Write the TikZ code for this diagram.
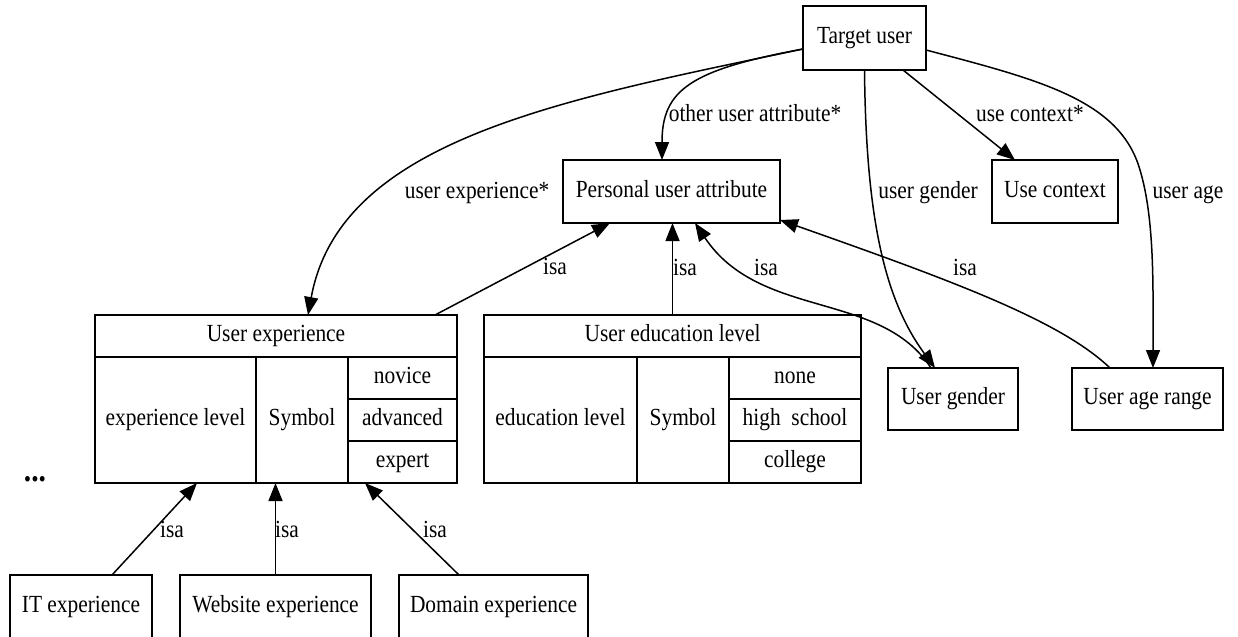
\documentclass[tikz,border=0pt]{standalone}
\usepackage{fontspec}
\setmainfont{Liberation Serif}[FakeStretch=0.87]
\usetikzlibrary{arrows.meta}
\newcommand{\dgfont}{\fontsize{12.3pt}{14pt}\selectfont}
\tikzset{
  box/.style={draw,line width=0.8pt,inner sep=0pt,outer sep=0pt,font=\dgfont,text height=1.5ex,text depth=.25ex},
  lbl/.style={inner sep=0pt,font=\dgfont,text height=1.5ex,text depth=.25ex},
  link/.style={line width=0.75pt,-{Triangle[length=9pt,width=7pt]}}
}
\begin{document}
\begin{tikzpicture}[x=0.5pt,y=-0.5pt]
\clip (0,0) rectangle (1238,637);
\fill[white] (0,0) rectangle (1238,637);

\node[box,minimum width=61.5pt,minimum height=32pt] (tuser) at (864.5,38) {Target user};
\node[box,minimum width=108.5pt,minimum height=31.5pt] (pattr) at (671.5,191.5) {Personal user attribute};
\node[box,minimum width=63pt,minimum height=31.5pt] (ucontext) at (1055,191.5) {Use context};
\node[box,minimum width=65pt,minimum height=31pt] (ugender) at (953,399) {User gender};
\node[box,minimum width=75.5pt,minimum height=31pt] (uagerange) at (1147.5,399) {User age range};

\node[box,minimum width=181pt,minimum height=21pt] (uexp) at (276,336) {User experience};
\node[box,minimum width=80.5pt,minimum height=63pt] (uexplevel) at (175.5,420) {experience level};
\node[box,minimum width=46pt,minimum height=63pt] (uexpsym) at (302,420) {Symbol};
\node[box,minimum width=54.5pt,minimum height=21pt] (xnovice) at (402.5,378) {novice};
\node[box,minimum width=54.5pt,minimum height=21pt] (xadvanced) at (402.5,420) {advanced};
\node[box,minimum width=54.5pt,minimum height=21pt] (xexpert) at (402.5,462) {expert};

\node[box,minimum width=188.5pt,minimum height=21pt] (uedu) at (672.5,336) {User education level};
\node[box,minimum width=76.5pt,minimum height=63pt] (uedulevel) at (560.5,420) {education level};
\node[box,minimum width=46pt,minimum height=63pt] (uedusym) at (683,420) {Symbol};
\node[box,minimum width=66pt,minimum height=21pt] (enone) at (795,378) {none};
\node[box,minimum width=66pt,minimum height=21pt] (ehigh) at (795,420) {high\ \ school};
\node[box,minimum width=66pt,minimum height=21pt] (ecollege) at (795,462) {college};

\node[box,minimum width=71pt,minimum height=31.5pt] (itexp) at (81,606.5) {IT experience};
\node[box,minimum width=95.5pt,minimum height=31.5pt] (webexp) at (275.5,606.5) {Website experience};
\node[box,minimum width=94.5pt,minimum height=31.5pt] (domexp) at (493.5,606.5) {Domain experience};
\node[inner sep=0pt,anchor=base,font=\fontsize{17pt}{18pt}\selectfont\bfseries] (dots) at (35,481) {...};

\draw[link] ([yshift=-5.5pt]tuser.west) .. controls (560,100) and (340,140) .. ([xshift=16pt]uexp.north);
\draw[link] ([yshift=-5.5pt]tuser.west) .. controls (690,70) and (662,90) .. ([xshift=-4.75pt]pattr.north);
\draw[link] (tuser.south) .. controls (866,220) and (885,300) .. ([xshift=-9pt]ugender.north);
\draw[link] ([xshift=19.25pt]tuser.south) -- ([xshift=-20pt]ucontext.north);
\draw[link] ([yshift=-6pt]tuser.east) .. controls (1040,80) and (1120,100) .. (1140,170) .. controls (1155,220) and (1153,290) .. ([xshift=2.75pt]uagerange.north);

\draw[link] ([xshift=-11pt]uexp.north east) -- ([xshift=-30.75pt]pattr.south);
\draw[link] (uedu.north) -- (uedu.north |- pattr.south);
\draw[link] ([xshift=-11pt]ugender.north) .. controls (880,290) and (760,320) .. ([xshift=11.75pt]pattr.south);
\draw[link] ([xshift=-18.75pt]uagerange.north) .. controls (1060,320) and (950,280) .. ([yshift=1.5pt]pattr.south east);
\draw[link] ([xshift=15.5pt]itexp.north) -- ([xshift=10.75pt]uexplevel.south);
\draw[link] (webexp.north) -- (webexp.north |- uexpsym.south);
\draw[link] ([xshift=-17.25pt]domexp.north) -- ([xshift=-18.75pt]xexpert.south);

\node[lbl] (luexp) at (477,193) {user experience*};
\node[lbl] (lother) at (755,116) {other user attribute*};
\node[lbl] (lgender) at (928,193) {user gender};
\node[lbl] (lcontext) at (1030,116) {use context*};
\node[lbl] (lage) at (1188,193) {user age};
\node[lbl] (lisaexp) at (555,269) {isa};
\node[lbl] (lisaedu) at (685,270) {isa};
\node[lbl] (lisagender) at (766,270) {isa};
\node[lbl] (lisaage) at (965,270) {isa};
\node[lbl] (lisait) at (172,532) {isa};
\node[lbl] (lisaweb) at (287,532) {isa};
\node[lbl] (lisadom) at (435,532) {isa};
\end{tikzpicture}
\end{document}
